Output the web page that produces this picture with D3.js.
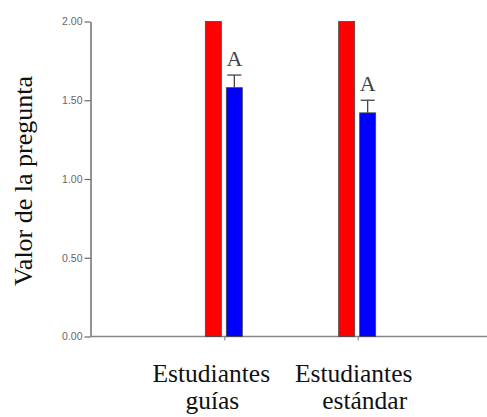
<!DOCTYPE html>
<html>
<head>
<meta charset="utf-8">
<script src="https://cdn.jsdelivr.net/npm/d3@7"></script>
<style>
  html, body { margin: 0; padding: 0; background: #fff; }
  svg { display: block; }
</style>
</head>
<body>
<svg id="chart" width="487" height="417"></svg>
<script>
// ---- data ----
const categories = [["Estudiantes", "guías"], ["Estudiantes", "estándar"]];
const redValues = [2.00, 2.00];
const blueValues = [1.58, 1.42];
const blueErrors = [0.08, 0.08];
const blueLetters = ["A", "A"];
const yTicks = [0, 0.5, 1.0, 1.5, 2.0];
const yLabel = "Valor de la pregunta";

// ---- layout ----
const svg = d3.select("#chart");
const x = d3.scaleLinear().domain([0, 3]).range([91, 491]);
const y = d3.scaleLinear().domain([0, 2]).range([336.5, 21.5]);
const barW = 16;

// y axis
const yAxis = svg.append("g").attr("transform", "translate(90.5,0)")
  .call(d3.axisLeft(y).tickValues(yTicks).tickFormat(d3.format(".2f")).tickSize(6).tickSizeOuter(0));
yAxis.select(".domain").attr("stroke", "#666").attr("stroke-width", 1.4);
yAxis.selectAll(".tick line").attr("stroke", "#666").attr("stroke-width", 1.2);
yAxis.selectAll(".tick text").attr("font-family", "Arial, 'Liberation Sans', sans-serif")
  .attr("font-size", 10.5).attr("fill", "#666").attr("x", -8);

// x axis
const xAxis = svg.append("g").attr("transform", `translate(0,${y(0)})`)
  .call(d3.axisBottom(x).tickValues([1, 2]).tickFormat("").tickSize(4).tickSizeOuter(0));
xAxis.select(".domain").attr("stroke", "#888").attr("stroke-width", 1.6)
  .attr("d", `M${x(0) - 1},0H487`);
xAxis.selectAll(".tick line").attr("stroke", "#777").attr("stroke-width", 1);

const idx = d3.range(categories.length);

// red bars
svg.append("g").selectAll("rect").data(idx).join("rect")
  .attr("x", i => x(i + 1) - 19)
  .attr("y", i => y(redValues[i]))
  .attr("width", barW)
  .attr("height", i => y(0) - y(redValues[i]))
  .attr("fill", "#ff0000").attr("stroke", "#444").attr("stroke-width", 0.8);

// blue bars
svg.append("g").selectAll("rect").data(idx).join("rect")
  .attr("x", i => x(i + 1) + 2)
  .attr("y", i => y(blueValues[i]))
  .attr("width", barW)
  .attr("height", i => y(0) - y(blueValues[i]))
  .attr("fill", "#0000ff").attr("stroke", "#444").attr("stroke-width", 0.8);

// error bars (upper)
const eb = svg.append("g").attr("stroke", "#444").attr("stroke-width", 1.3);
idx.forEach(i => {
  const cx = x(i + 1) + 2 + barW / 2;
  const top = y(blueValues[i] + blueErrors[i]);
  eb.append("line").attr("x1", cx).attr("x2", cx).attr("y1", top).attr("y2", y(blueValues[i]));
  eb.append("line").attr("x1", cx - 7).attr("x2", cx + 7).attr("y1", top).attr("y2", top);
});

// letters
svg.append("g").selectAll("text").data(idx).join("text")
  .attr("x", i => x(i + 1) + 2 + barW / 2)
  .attr("y", i => y(blueValues[i] + blueErrors[i]) - 9)
  .attr("text-anchor", "middle")
  .attr("font-family", "'Liberation Serif', 'Times New Roman', serif")
  .attr("font-size", 22).attr("fill", "#444")
  .text(i => blueLetters[i]);

// category labels
const lineOffsets = [[-13, -12], [-4, 7]];
idx.forEach(i => {
  categories[i].forEach((t, j) => {
    svg.append("text")
      .attr("x", x(i + 1) + lineOffsets[i][j])
      .attr("y", 382 + j * 27)
      .attr("text-anchor", "middle")
      .attr("font-family", "'Liberation Serif', 'Times New Roman', serif")
      .attr("font-size", 25.5).attr("fill", "#111")
      .text(t);
  });
});

// y label
svg.append("text")
  .attr("transform", "translate(32,181) rotate(-90)")
  .attr("text-anchor", "middle")
  .attr("font-family", "'Liberation Serif', 'Times New Roman', serif")
  .attr("font-size", 26).attr("fill", "#111")
  .text(yLabel);
</script>
</body>
</html>
